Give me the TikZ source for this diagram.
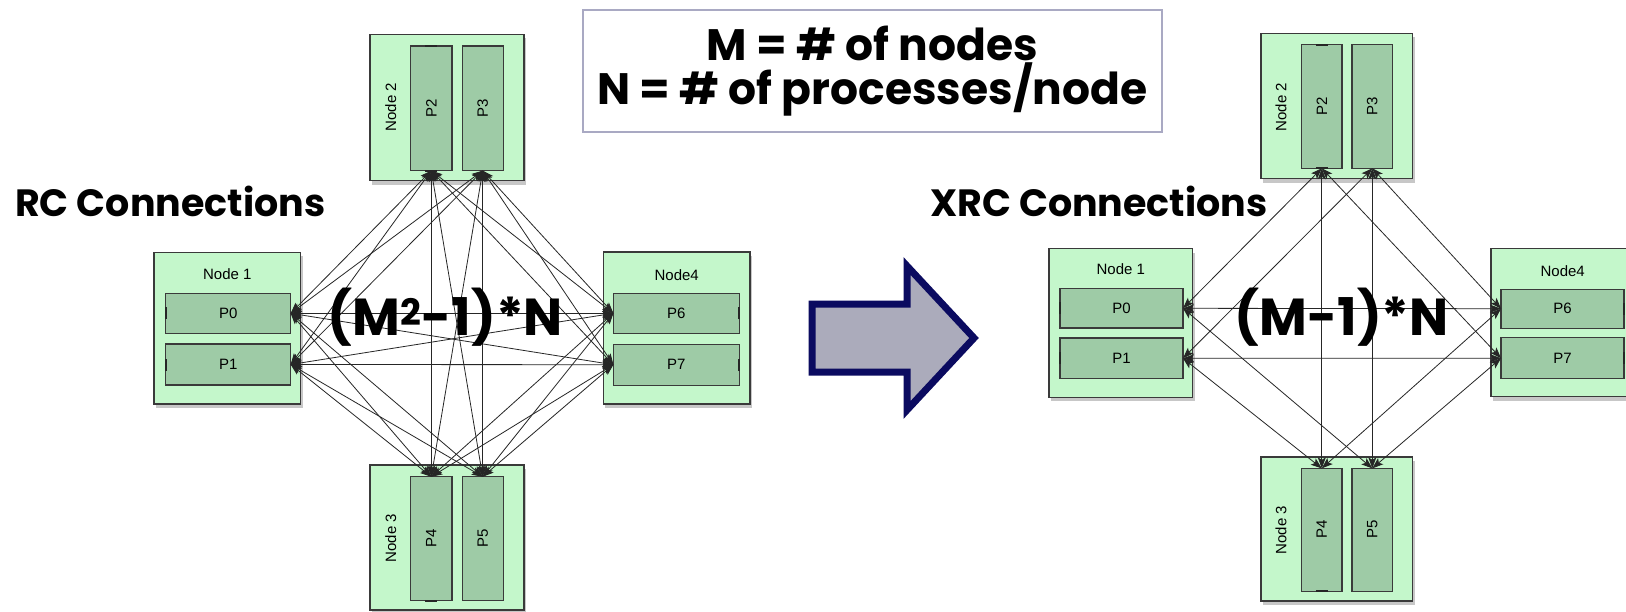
\documentclass[tikz,border=0pt]{standalone}
\usepackage{graphicx}
\usepackage{fontspec}
\newfontfamily\handfont{Poppins}
\newfontfamily\diagfont{Liberation Sans}
\usetikzlibrary{arrows.meta,shadows}

\definecolor{nodegreen}{HTML}{C4F7CB}
\definecolor{procgreen}{HTML}{9ECBA6}
\definecolor{edgegray}{HTML}{3A3A3A}
\definecolor{legendframe}{HTML}{A9A9C3}
\definecolor{arrowfill}{HTML}{ABABBB}
\definecolor{arrowedge}{HTML}{0B0B60}

\tikzset{
  hostbox/.style={draw=edgegray, line width=1.3pt, fill=nodegreen, inner sep=0pt, outer sep=0pt,
    drop shadow={shadow xshift=2pt, shadow yshift=-4pt, opacity=0.22, fill=black}},
  procbox/.style={draw=edgegray, line width=1.1pt, fill=procgreen, inner sep=0pt, outer sep=0pt,
    font=\diagfont\fontsize{15}{18}\selectfont},
  hostlabel/.style={font=\diagfont\fontsize{15}{18}\selectfont, inner sep=0pt},
  link/.style={draw=black!85, line width=0.8pt,
    {Stealth[length=11pt,width=8pt,inset=2.5pt]}-{Stealth[length=11pt,width=8pt,inset=2.5pt]}},
  port/.style={line width=2.2pt, draw=black!85},
  headline/.style={font=\handfont\bfseries\fontsize{38}{42}\selectfont, inner sep=0pt},
  legendtext/.style={font=\handfont\bfseries\fontsize{44}{46}\selectfont, inner sep=0pt},
  formula/.style={font=\handfont\bfseries\fontsize{52}{56}\selectfont, inner sep=0pt},
  legendbox/.style={draw=legendframe, line width=2pt, fill=white, inner sep=0pt,
    minimum width=579.6pt, minimum height=122pt},
  bigarrow/.style={draw=arrowedge, fill=arrowfill, line width=7pt, miter limit=10},
}

\begin{document}
\begin{tikzpicture}[x=1pt, y=-1pt]
\fill[white] (0,0) rectangle (1626,611);
\useasboundingbox (0,0) rectangle (1626,611);
\clip (0,0) rectangle (1626,611);

% ---------- legend ----------
\node[legendbox] (legend) at (872.5,71) {};
\node[legendtext, anchor=base] (legM) at (872.4,60.7) {M = \# of nodes};
\node[legendtext, anchor=base] (legN) at (872.4,104) {N = \# of processes/node};

% ---------- headings ----------
\node[headline, anchor=base west] (rctitle) at (15,216.7) {RC Connections};
\node[headline, anchor=base west] (xrctitle) at (930,216.7) {XRC Connections};

% ---------- RC cluster (left) ----------
\node[hostbox, minimum width=146.7pt, minimum height=151.7pt] (Lh1) at (227.3,328.2) {};
\node[hostbox, minimum width=146.7pt, minimum height=152pt]   (Lh4) at (676.7,328) {};
\node[hostbox, minimum width=154pt,   minimum height=146.4pt] (Lh2) at (447,107.5) {};
\node[hostbox, minimum width=154pt,   minimum height=145pt]   (Lh3) at (447,537.5) {};

\node[hostlabel] (Lh1t) at (227.3,274) {Node 1};
\node[hostlabel] (Lh4t) at (676.7,275) {Node4};
\node[hostlabel, rotate=90] (Lh2t) at (390.7,107) {Node 2};
\node[hostlabel, rotate=90] (Lh3t) at (390.7,538) {Node 3};

\node[procbox, minimum width=125pt, minimum height=40pt] (Lp0) at (228.2,313.3) {P0};
\node[procbox, minimum width=125pt, minimum height=41pt] (Lp1) at (228.2,364.5) {P1};
\node[procbox, minimum width=125.7pt, minimum height=40pt] (Lp6) at (676.2,313.3) {P6};
\node[procbox, minimum width=125.7pt, minimum height=41pt] (Lp7) at (676.2,364.7) {P7};
\node[procbox, minimum width=41.3pt, minimum height=124.7pt] (Lp2) at (431.3,108.3) {\rotatebox{90}{P2}};
\node[procbox, minimum width=41.3pt, minimum height=124.7pt] (Lp3) at (482.7,108.3) {\rotatebox{90}{P3}};
\node[procbox, minimum width=41.3pt, minimum height=124pt] (Lp4) at (431.3,538.7) {\rotatebox{90}{P4}};
\node[procbox, minimum width=41.3pt, minimum height=124pt] (Lp5) at (482.7,538.7) {\rotatebox{90}{P5}};

% port marks on the process boxes
\foreach \p in {Lp0,Lp1} \draw[port] ([yshift=-6pt]\p.west) -- ([yshift=6pt]\p.west);
\foreach \p in {Lp6,Lp7} \draw[port] ([yshift=-6pt]\p.east) -- ([yshift=6pt]\p.east);
\draw[port] ([xshift=-6pt]Lp2.north) -- ([xshift=6pt]Lp2.north);
\draw[port] ([xshift=-6pt]Lp2.south) -- ([xshift=6pt]Lp2.south);
\draw[port] ([xshift=-6pt]Lp4.south) -- ([xshift=6pt]Lp4.south);

% every process connected to every process on the other nodes
\foreach \a in {0,1}{\foreach \b in {6,7}{\draw[link] (Lp\a.east) -- (Lp\b.west);}}
\foreach \a in {0,1}{\foreach \b in {2,3}{\draw[link] (Lp\a.east) -- (Lp\b.south);}}
\foreach \a in {0,1}{\foreach \b in {4,5}{\draw[link] (Lp\a.east) -- (Lp\b.north);}}
\foreach \a in {6,7}{\foreach \b in {2,3}{\draw[link] (Lp\a.west) -- (Lp\b.south);}}
\foreach \a in {6,7}{\foreach \b in {4,5}{\draw[link] (Lp\a.west) -- (Lp\b.north);}}
\foreach \a in {2,3}{\foreach \b in {4,5}{\draw[link] (Lp\a.south) -- (Lp\b.north);}}

\node[formula, anchor=base] (rcformula) at (445.3,335) {(M\textsuperscript{2}-1)*N};

% ---------- transition arrow ----------
\draw[bigarrow] (812,304) -- (907,304) -- (907,266) -- (974,338) -- (907,410) -- (907,372) -- (812,372) -- cycle;

% ---------- XRC cluster (right) ----------
\node[hostbox, minimum width=143.7pt, minimum height=148.6pt] (Rh1) at (1120.8,323) {};
\node[hostbox, minimum width=143.7pt, minimum height=148.4pt] (Rh4) at (1562.8,322.5) {};
\node[hostbox, minimum width=151.7pt, minimum height=145.4pt] (Rh2) at (1336.8,106) {};
\node[hostbox, minimum width=151.7pt, minimum height=144pt]   (Rh3) at (1336.8,529) {};

\node[hostlabel] (Rh1t) at (1120.8,269.5) {Node 1};
\node[hostlabel] (Rh4t) at (1562.7,271) {Node4};
\node[hostlabel, rotate=90] (Rh2t) at (1281,107) {Node 2};
\node[hostlabel, rotate=90] (Rh3t) at (1281,530) {Node 3};

\node[procbox, minimum width=123pt, minimum height=39.3pt] (Rp0) at (1121.5,308.3) {P0};
\node[procbox, minimum width=123pt, minimum height=40.7pt] (Rp1) at (1121.5,358.3) {P1};
\node[procbox, minimum width=123pt, minimum height=39.3pt] (Rp6) at (1562.5,308.7) {P6};
\node[procbox, minimum width=123pt, minimum height=41pt]   (Rp7) at (1562.5,358.2) {P7};
\node[procbox, minimum width=40.3pt, minimum height=123.6pt] (Rp2) at (1321.8,106.5) {\rotatebox{90}{P2}};
\node[procbox, minimum width=40.7pt, minimum height=123.6pt] (Rp3) at (1372.3,106.5) {\rotatebox{90}{P3}};
\node[procbox, minimum width=40.3pt, minimum height=122.7pt] (Rp4) at (1321.8,529.7) {\rotatebox{90}{P4}};
\node[procbox, minimum width=40.7pt, minimum height=122.7pt] (Rp5) at (1372.3,529.7) {\rotatebox{90}{P5}};

\foreach \p in {Rp0,Rp1} \draw[port] ([yshift=-6pt]\p.west) -- ([yshift=6pt]\p.west);
\foreach \p in {Rp6,Rp7} \draw[port] ([yshift=-6pt]\p.east) -- ([yshift=6pt]\p.east);
\draw[port] ([xshift=-6pt]Rp2.north) -- ([xshift=6pt]Rp2.north);
\draw[port] ([xshift=-6pt]Rp2.south) -- ([xshift=6pt]Rp2.south);
\draw[port] ([xshift=-6pt]Rp4.south) -- ([xshift=6pt]Rp4.south);

% one connection per process and remote node
\foreach \a/\aa/\b/\bb in {0/east/6/west, 1/east/7/west, 2/south/4/north, 3/south/5/north,
    2/south/0/east, 3/south/1/east, 2/south/7/west, 3/south/6/west,
    1/east/4/north, 0/east/5/north, 6/west/4/north, 7/west/5/north}
  \draw[link] (Rp\a.\aa) -- (Rp\b.\bb);

\node[formula, anchor=base] (xrcformula) at (1341.7,335) {(M-1)*N};
\end{tikzpicture}
\end{document}
